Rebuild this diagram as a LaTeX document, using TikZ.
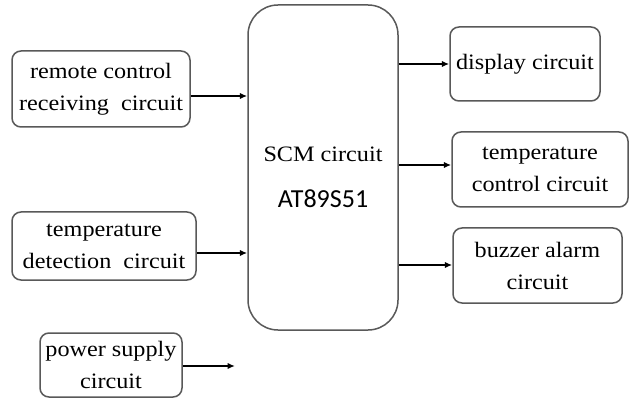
\documentclass[tikz,border=0pt]{standalone}
\usepackage{fontspec}
\setmainfont[FakeStretch=1.1]{Liberation Serif}
\newfontfamily\chipfont{Carlito}
\usetikzlibrary{arrows.meta,positioning}

\begin{document}
\begin{tikzpicture}[
  x=1pt, y=-1pt,
  font=\fontsize{22}{32}\selectfont,
  box/.style={draw=black!65, line width=1.5pt, rounded corners=9pt, align=center,
    inner sep=2pt},
  arr/.style={-{Latex[length=2.6mm,width=2.2mm]}, line width=1.5pt}
]
\useasboundingbox[fill=white] (0,0) rectangle (629,398);

% --- left column: inputs ---
\node[box, minimum width=178pt, minimum height=76pt] (remote) at (101,89)
  {remote control\\receiving\ \ circuit};
\node[box, minimum width=184pt, minimum height=68pt] (detect) at (104,246)
  {temperature\\detection\ \ circuit};
\node[box, minimum width=142pt, minimum height=64pt] (power) at (111,365)
  {power supply\\circuit};

% --- centre: controller ---
\node[box, rounded corners=30pt, minimum width=150pt, minimum height=325pt]
  (scm) at (323,167.5) {};
\node[align=center] (scmtext) at ([yshift=-10pt]scm.center)
  {SCM circuit\\[14pt]{\chipfont\fontsize{26}{30}\selectfont AT89S51}};

% --- right column: outputs ---
\node[box, minimum width=150pt, minimum height=74pt] (display) at (525,64)
  {display circuit};
\node[box, minimum width=176pt, minimum height=75pt] (tctrl) at (540,169.5)
  {temperature\\control circuit};
\node[box, minimum width=169pt, minimum height=75pt] (buzzer) at (537.5,265.5)
  {buzzer alarm\\circuit};

\coordinate (powerend) at (235,366);

\draw[arr] ([yshift=-7pt]remote.east) -- ([yshift=-7pt]remote.east -| scm.west);
\draw[arr] ([yshift=-7pt]detect.east) -- ([yshift=-7pt]detect.east -| scm.west);
\draw[arr] (power.east |- powerend) -- (powerend);
\draw[arr] (scm.east |- display.west) -- (display.west);
\draw[arr] ([yshift=4.5pt]scm.east |- tctrl.west) -- ([yshift=4.5pt]tctrl.west);
\draw[arr] ([yshift=0.5pt]scm.east |- buzzer.west) -- ([yshift=0.5pt]buzzer.west);
\end{tikzpicture}
\end{document}
